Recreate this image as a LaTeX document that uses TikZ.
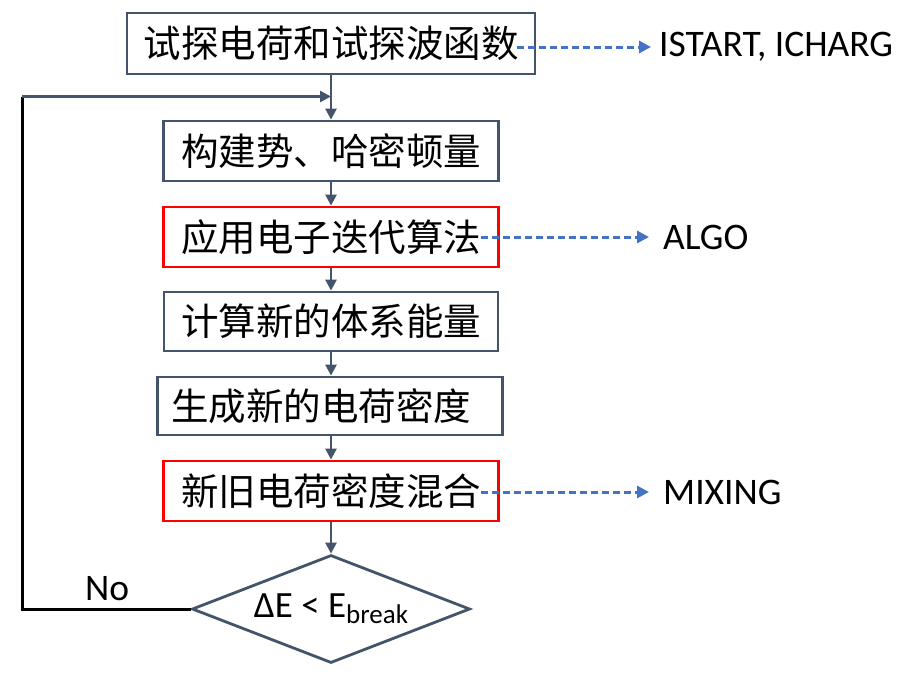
\documentclass[tikz,border=0pt]{standalone}
\usepackage{fontspec}
\setmainfont{Carlito}
\newfontfamily\cjk{Noto Sans CJK SC}
\usetikzlibrary{shapes.geometric,arrows.meta}
\definecolor{slate}{HTML}{44546A}
\definecolor{dblue}{HTML}{4472C4}
\definecolor{bred}{HTML}{FF0000}
\tikzset{
  stepbox/.style={draw=slate,line width=2.8pt,fill=white,inner sep=0pt,minimum height=60pt,font=\cjk\fontsize{37.5}{40}\selectfont,text=black},
  redbox/.style={stepbox,draw=bred},
  flow/.style={draw=slate,line width=2.6pt,-{Triangle[length=11pt,width=11pt]}},
  dasharrow/.style={draw=dblue,line width=3pt,dash pattern=on 7pt off 4pt,-{Triangle[length=12pt,width=12pt]}},
  lbl/.style={font=\fontsize{37.5}{40}\selectfont,text=black,inner sep=0pt,anchor=west}
}
\begin{document}
\begin{tikzpicture}[x=1pt,y=-1pt]
\useasboundingbox (0,0) rectangle (902,673);
\node[stepbox,minimum width=408pt,minimum height=61pt] (b1) at (331,43.5) {试探电荷和试探波函数};
\node[stepbox,minimum width=335pt] (b2) at (331,151) {构建势、哈密顿量};
\node[redbox,minimum width=335pt] (b3) at (331,237) {应用电子迭代算法};
\node[stepbox,minimum width=334pt,minimum height=59pt] (b4) at (331,321.5) {计算新的体系能量};
\node[stepbox,minimum width=345pt,minimum height=58pt] (b5) at (330,406) {生成新的电荷密度\hspace*{18pt}};
\node[redbox,minimum width=335pt] (b6) at (331,491) {新旧电荷密度混合};
\node[diamond,aspect=2.57,draw=slate,line width=2.8pt,inner sep=0pt,minimum width=278pt,minimum height=108pt,font=\fontsize{37}{40}\selectfont] (d) at (331,609)
  {ΔE < E\raisebox{-0.35ex}{\fontsize{27}{28}\selectfont break}};
% flow arrows
\draw[flow] (b1.south) -- (b2.north);
\draw[flow] (b2.south) -- (b3.north);
\draw[flow] (b3.south) -- (b4.north);
\draw[flow] (b4.south) -- (b5.north -| b4.south);
\draw[flow] (b5.south -| b6.north) -- (b6.north);
\draw[flow] (b6.south) -- (d.north);
% feedback loop
\coordinate (lb) at (22,609);
\coordinate (lt) at (22,96.5);
\coordinate (fin) at (331,96.5);
\draw[black,line width=3pt] (d.west) -- (lb) -- (lt);
\draw[flow] (lt) -- (fin);
\node[lbl] (no) at (85,589) {No};
% parameter labels
\coordinate (s1) at (517,47);
\coordinate (s3) at (481,237);
\coordinate (s6) at (481,492);
\node[lbl] (t1) at (659,47) {ISTART, ICHARG};
\node[lbl] (t3) at (663,237) {ALGO};
\node[lbl] (t6) at (663,492) {MIXING};
\draw[dasharrow] (s1) -- ([xshift=-8pt]t1.west);
\draw[dasharrow] (s3) -- ([xshift=-14pt]t3.west);
\draw[dasharrow] (s6) -- ([xshift=-14pt]t6.west);
\end{tikzpicture}
\end{document}
